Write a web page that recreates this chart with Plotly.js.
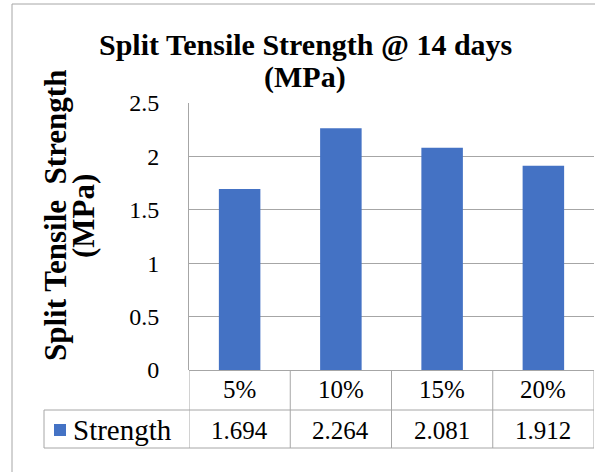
<!DOCTYPE html>
<html>
<head>
<meta charset="utf-8">
<script src="https://cdn.plot.ly/plotly-3.0.1.min.js"></script>
<style>html,body{margin:0;padding:0;background:#fff;}#chart{width:595px;height:472px;}</style>
</head>
<body>
<div id="chart"></div>
<script>
const categories = ["5%", "10%", "15%", "20%"];
const strength = [1.694, 2.264, 2.081, 1.912];
const valueLabels = ["1.694", "2.264", "2.081", "1.912"];
const seriesName = "Strength";
const titleLines = ["Split Tensile Strength @ 14 days", "(MPa)"];
const yTitleLines = ["Split Tensile  Strength", "(MPa)"];
const yTicks = [0, 0.5, 1, 1.5, 2, 2.5];
const yTickLabels = ["0", "0.5", "1", "1.5", "2", "2.5"];

const W = 595, H = 472;
const L = 189, R = 594, T = 103, B = 370;
const pw = R - L, ph = B - T;
const px = v => (v - L) / pw;
const py = v => 1 - (v - T) / ph;

const grid = "#A6A6A6";
const blue = "#4472C4";
const serif = "Liberation Serif";

const shapes = [];
const line = (xref, x0, x1, yref, y0, y1) => shapes.push({type: "line", xref, yref, x0, x1, y0, y1, line: {color: grid, width: 1}});
// outer chart border (left and top)
line("paper", px(12), px(12), "paper", py(4), py(480));
line("paper", px(12), px(600), "paper", py(4), py(4));
// table horizontal lines
line("paper", px(44), 1, "paper", py(410), py(410));
line("paper", px(44), 1, "paper", py(448), py(448));
// table vertical lines at category boundaries
for (let i = 0; i <= categories.length; i++) {
  line("x", i - 0.5, i - 0.5, "paper", py(370), py(448));
}
line("paper", px(44), px(44), "paper", py(410), py(448));
// legend key square
shapes.push({type: "rect", xref: "paper", yref: "paper", x0: px(54), x1: px(66), y0: py(436), y1: py(424), fillcolor: blue, line: {width: 0}});

const annotations = [];
categories.forEach((c, i) => {
  annotations.push({xref: "x", yref: "paper", x: c, y: py(389), text: c, showarrow: false, font: {family: serif, size: 25, color: "#000"}, xanchor: "center", yanchor: "middle"});
  annotations.push({xref: "x", yref: "paper", x: c, y: py(430), text: valueLabels[i], showarrow: false, font: {family: serif, size: 25, color: "#000"}, xanchor: "center", yanchor: "middle"});
});
annotations.push({xref: "paper", yref: "paper", x: px(71), y: py(430), text: seriesName, showarrow: false, font: {family: serif, size: 29, color: "#000"}, xanchor: "left", yanchor: "middle"});
annotations.push({xref: "paper", yref: "paper", x: px(305), y: py(45), text: "<b>" + titleLines[0] + "</b>", showarrow: false, font: {family: serif, size: 30, color: "#000"}, xanchor: "center", yanchor: "middle"});
annotations.push({xref: "paper", yref: "paper", x: px(305), y: py(77), text: "<b>" + titleLines[1] + "</b>", showarrow: false, font: {family: serif, size: 30, color: "#000"}, xanchor: "center", yanchor: "middle"});
annotations.push({xref: "paper", yref: "paper", x: px(55), y: py(216), text: "<b>" + yTitleLines[0] + "</b>", textangle: -90, showarrow: false, font: {family: serif, size: 31, color: "#000"}, xanchor: "center", yanchor: "middle"});
annotations.push({xref: "paper", yref: "paper", x: px(83), y: py(216), text: "<b>" + yTitleLines[1] + "</b>", textangle: -90, showarrow: false, font: {family: serif, size: 31, color: "#000"}, xanchor: "center", yanchor: "middle"});

const data = [{
  type: "bar", x: categories, y: strength, name: seriesName,
  marker: {color: blue}, hoverinfo: "none"
}];

const layout = {
  width: W, height: H,
  margin: {l: L, r: W - R, t: T, b: H - B, pad: 0},
  paper_bgcolor: "#fff", plot_bgcolor: "#fff",
  showlegend: false,
  bargap: 0.59,
  xaxis: {type: "category", range: [-0.5, categories.length - 0.5], showticklabels: false, ticks: "", showgrid: false, zeroline: false, showline: false, fixedrange: true},
  yaxis: {range: [0, 2.5], tickvals: yTicks, ticktext: yTickLabels, showgrid: true, gridcolor: grid, gridwidth: 1, zeroline: true, zerolinecolor: grid, zerolinewidth: 1, showline: true, linecolor: grid, linewidth: 1, ticks: "", ticklabelstandoff: 24, tickfont: {family: serif, size: 24, color: "#000"}, fixedrange: true},
  shapes, annotations
};
Plotly.newPlot("chart", data, layout, {staticPlot: true, displayModeBar: false});
</script>
</body>
</html>
